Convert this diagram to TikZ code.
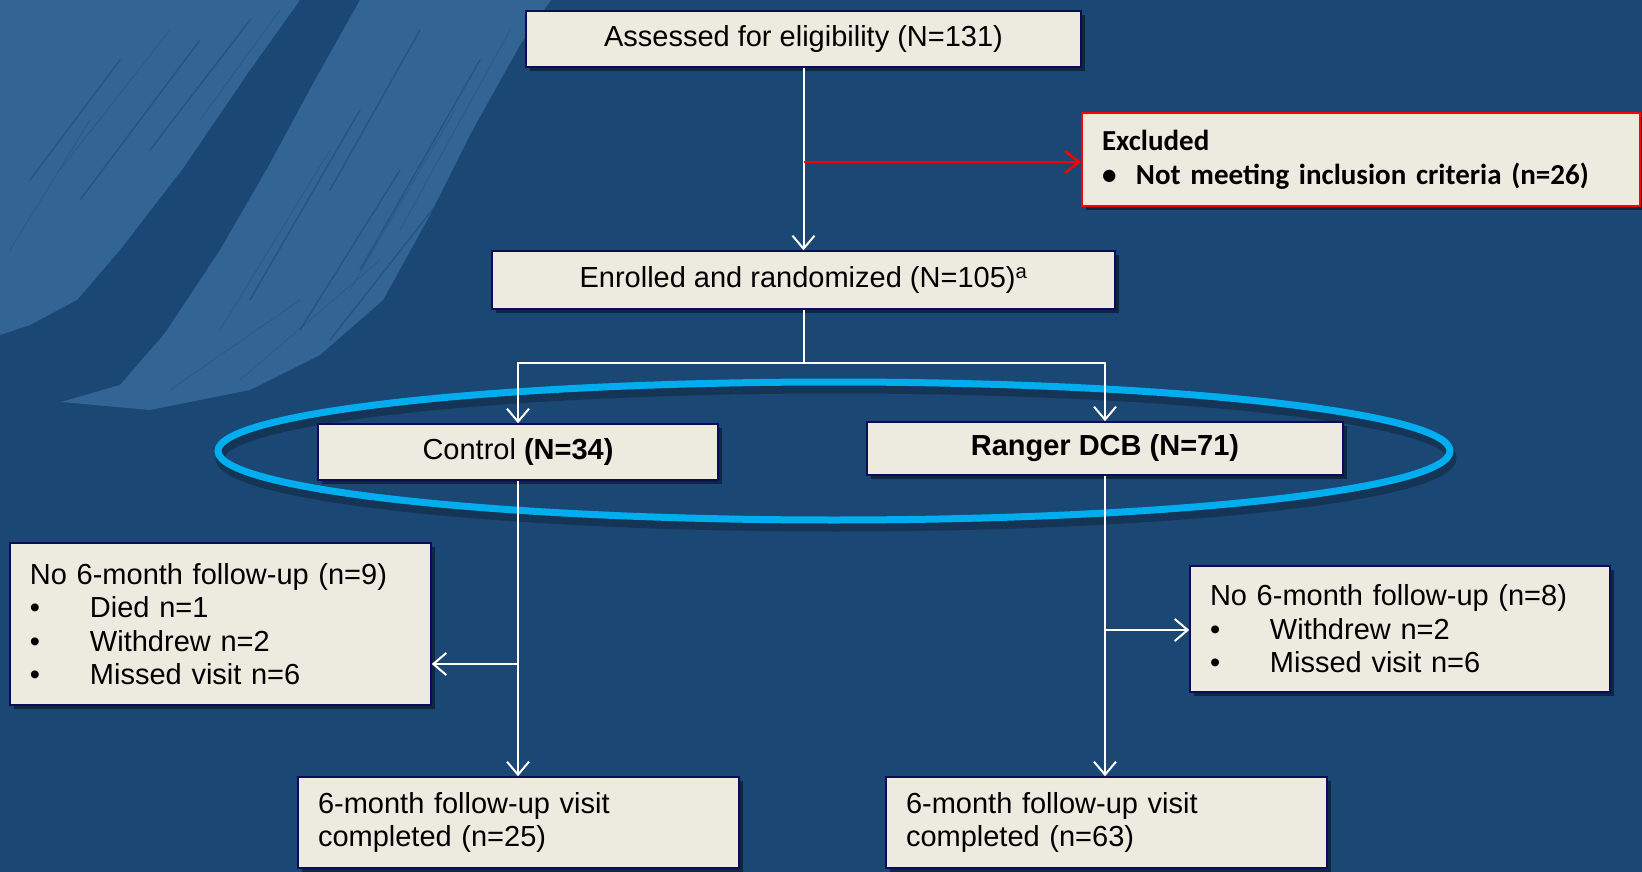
\documentclass[tikz,border=0pt]{standalone}
\usepackage{fontspec}
\setmainfont{Liberation Sans}
\newfontfamily\calibri{Carlito}
\usetikzlibrary{arrows.meta,shadows,shapes.geometric}
\definecolor{bg}{RGB}{27,71,116}
\definecolor{brush}{RGB}{50,100,148}
\definecolor{boxfill}{RGB}{237,235,224}
\definecolor{boxline}{RGB}{12,12,90}
\definecolor{ring}{RGB}{0,174,239}
\definecolor{exred}{RGB}{255,0,0}
\newcommand{\boxfont}{\fontsize{29}{33.5}\selectfont}
\begin{document}
\begin{tikzpicture}[x=1pt,y=-1pt,
  box/.style={draw=boxline, line width=1.5pt, fill=boxfill, inner sep=0pt,
    font=\boxfont, text=black,
    drop shadow={shadow xshift=4pt, shadow yshift=-4pt, opacity=0.45, fill=black}},
  lbox/.style={box, align=left, inner xsep=20pt},
  arr/.style={draw=white, line width=2pt, -{Straight Barb[length=13pt,width=22pt,line width=2pt]}},
  plain/.style={draw=white, line width=2pt},
  redarr/.style={draw=exred, line width=2.5pt, -{Straight Barb[length=14pt,width=22pt,line width=2.5pt]}},
  streak/.style={draw=bg, opacity=0.5, line width=1.5pt, line cap=round},
  fstreak/.style={draw=bg, opacity=0.35, line width=0.8pt, line cap=round}
]
\useasboundingbox (0,0) rectangle (1642,872);
\fill[bg] (0,0) rectangle (1642,872);
% brush strokes
\fill[brush] (0,0) -- (300,0) -- (250,70) -- (184,167) -- (120,250) -- (77,300) -- (30,325) -- (0,335) -- cycle;
\fill[brush] (360,0) -- (551,0) -- (520,45) -- (471,133) -- (430,215) -- (383,300) -- (320,355) -- (250,390) -- (150,410) -- (61,402) -- (120,385) -- (165,333) -- (220,250) -- (268,167) -- (315,80) -- cycle;
\draw[streak] (250,20) -- (150,150);
\draw[streak] (200,40) -- (80,200);
\draw[streak] (120,60) -- (30,180);
\draw[streak] (420,30) -- (330,190);
\draw[streak] (480,60) -- (360,270);
\draw[streak] (400,170) -- (300,330);
\draw[streak] (440,200) -- (330,340);
\draw[streak] (360,110) -- (250,300);
\draw[fstreak] (280,10) -- (200,120);
\draw[fstreak] (170,30) -- (60,170);
\draw[fstreak] (90,120) -- (10,250);
\draw[fstreak] (510,30) -- (400,230);
\draw[fstreak] (455,110) -- (350,290);
\draw[fstreak] (330,150) -- (220,330);
\draw[fstreak] (300,300) -- (170,390);
\draw[fstreak] (380,260) -- (240,380);
% ellipse
\draw[black, opacity=0.25, line width=9pt] (836,458) ellipse [x radius=616pt, y radius=69pt];
\draw[ring, line width=7pt] (834,451) ellipse [x radius=616pt, y radius=69pt];
% nodes
\node[box, minimum width=555pt, minimum height=56pt] (assess) at (803.5,39) {Assessed for eligibility (N=131)};
\node[lbox, font={\fontsize{29}{34}\selectfont\calibri\bfseries}, minimum width=558pt, minimum height=93pt, text width=518pt, draw=exred, line width=2pt] (excl) at (1361,159.5)
  {Excluded\\\makebox[34pt][l]{\textbullet}Not meeting inclusion criteria (n=26)};
\node[box, minimum width=623pt, minimum height=58pt] (enroll) at (803.5,280) {Enrolled and randomized (N=105)\textsuperscript{a}};
\node[box, minimum width=400pt, minimum height=56pt] (control) at (518,452) {Control \textbf{(N=34)}};
\node[box, minimum width=476pt, minimum height=53pt] (ranger) at (1105,448.5) {\textbf{Ranger DCB (N=71)}};
\node[lbox, minimum width=421pt, minimum height=162pt, text width=381pt] (lost1) at (220.5,624)
  {No 6-month follow-up (n=9)\\
   \makebox[60pt][l]{\textbullet}Died n=1\\
   \makebox[60pt][l]{\textbullet}Withdrew n=2\\
   \makebox[60pt][l]{\textbullet}Missed visit n=6};
\node[lbox, minimum width=420pt, minimum height=126pt, text width=380pt] (lost2) at (1400,629)
  {No 6-month follow-up (n=8)\\
   \makebox[60pt][l]{\textbullet}Withdrew n=2\\
   \makebox[60pt][l]{\textbullet}Missed visit n=6};
\node[lbox, minimum width=441pt, minimum height=91pt, text width=401pt] (done1) at (518.5,822.5)
  {6-month follow-up visit\\completed (n=25)};
\node[lbox, minimum width=441pt, minimum height=91pt, text width=401pt] (done2) at (1106.5,822.5)
  {6-month follow-up visit\\completed (n=63)};
% connectors
\draw[arr] (assess) -- (enroll);
\coordinate (r0) at (803.5,162);
\draw[redarr] (r0) -- (r0 -| excl.west);
\coordinate (split) at (803.5,363);
\draw[plain] (enroll.south) -- (split);
\draw[arr] (split) -| (control.north);
\draw[arr] (split) -| (ranger.north);
\draw[arr] (control.south) -- (control.south |- done1.north);
\coordinate (lb) at (518,664);
\draw[arr] (lb) -- (lb -| lost1.east);
\draw[arr] (ranger.south) -- (ranger.south |- done2.north);
\coordinate (rb) at (1105,630);
\draw[arr] (rb) -- (rb -| lost2.west);
\end{tikzpicture}
\end{document}
